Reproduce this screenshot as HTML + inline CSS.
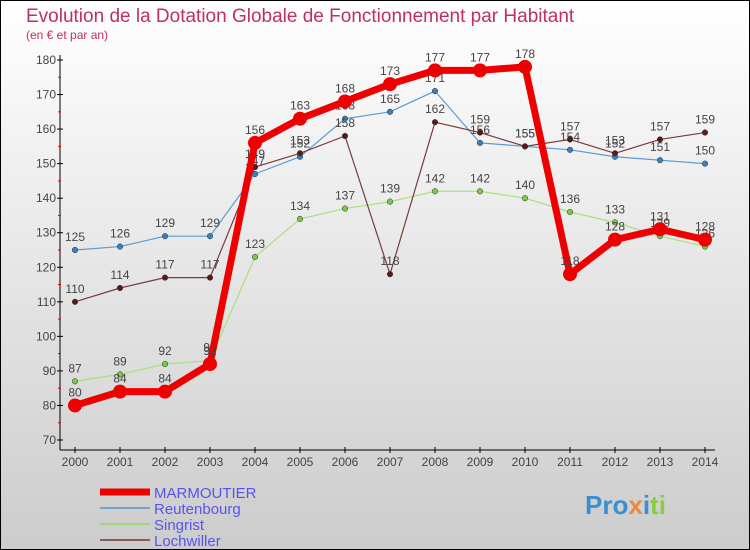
<!DOCTYPE html>
<html><head><meta charset="utf-8"><style>
body{margin:0}
#c{width:750px;height:550px;position:relative;overflow:hidden;box-sizing:border-box;border:1px solid #000;background:linear-gradient(#fff,#ccc);font-family:"Liberation Sans",sans-serif}
</style></head><body>
<div id="c">
<svg id="s" width="750" height="550" style="position:absolute;left:-1px;top:-1px" font-family="Liberation Sans, sans-serif">
<text x="26" y="22" font-size="19" fill="#c0305a">Evolution de la Dotation Globale de Fonctionnement par Habitant</text>
<text x="26" y="39" font-size="12" fill="#c0305a">(en € et par an)</text>
<g id="ax"></g><g id="ser"></g><g id="lg"></g>
<text x="585" y="514" font-size="26" font-weight="bold" fill="#3a8fd0">Pro<tspan fill="#e84">x</tspan><tspan fill="#3a8fd0">i</tspan><tspan fill="#8c4">ti</tspan></text>
</svg>
</div>
<script>
const years=[2000,2001,2002,2003,2004,2005,2006,2007,2008,2009,2010,2011,2012,2013,2014];
const yTicks=[70,80,90,100,110,120,130,140,150,160,170,180];
const marmoutier=[80,84,84,92,156,163,168,173,177,177,178,118,128,131,128];
const reutenbourg=[125,126,129,129,147,152,163,165,171,156,155,154,152,151,150];
const singrist=[87,89,92,93,123,134,137,139,142,142,140,136,133,129,126];
const lochwiller=[110,114,117,117,149,153,158,118,162,159,155,157,153,157,159];
const NS="http://www.w3.org/2000/svg";
const X=i=>75+i*45, Y=v=>440-(v-70)*380/110;
function el(t,a,p){const e=document.createElementNS(NS,t);for(const k in a)e.setAttribute(k,a[k]);p.appendChild(e);return e;}
const ax=document.getElementById('ax');
let a=el('line',{x1:60,y1:55,x2:60,y2:450,stroke:'#000'},ax);

a=el('line',{x1:60,y1:450,x2:715,y2:450,stroke:'#000'},ax);

yTicks.forEach(v=>{el('line',{x1:57,y1:Y(v),x2:63,y2:Y(v),stroke:'#000'},ax);
 if(v<180)el('line',{x1:58,y1:Y(v+5),x2:61,y2:Y(v+5),stroke:'#e00'},ax);
 const t=el('text',{x:56,y:Y(v)+4,'font-size':12,fill:'#444','text-anchor':'end'},ax);t.textContent=v;
 });
years.forEach((y,i)=>{el('line',{x1:X(i),y1:447,x2:X(i),y2:453,stroke:'#000'},ax);
 const t=el('text',{x:X(i),y:466,'font-size':12,fill:'#444','text-anchor':'middle'},ax);t.textContent=y;
 });
const ser=document.getElementById('ser');
const S=[[reutenbourg,'#5a9bd0','#3a7fc0',1.2,2.8,'reutenbourg'],[singrist,'#a8e080','#7c4',1.2,2.8,'singrist'],[lochwiller,'#7a3a3a','#5a1a1a',1.2,2.8,'lochwiller'],[marmoutier,'#ee0000','#ee0000',7,7,'marmoutier']];
S.forEach(([d,c,dc,w,r,n])=>{
 const p=el('polyline',{points:d.map((v,i)=>X(i)+','+Y(v)).join(' '),fill:'none',stroke:c,'stroke-width':w,'stroke-linejoin':'round'},ser);
 
 d.forEach((v,i)=>{const q=el('circle',{cx:X(i),cy:Y(v),r:r,fill:dc,stroke:n=='marmoutier'?'none':'#333','stroke-width':0.5},ser);
  
  const t=el('text',{x:X(i),y:Y(v)-9,'font-size':12,fill:'#444','text-anchor':'middle'},ser);t.textContent=v;
  });
});
const lg=document.getElementById('lg');
[['MARMOUTIER','#ee0000',7],['Reutenbourg','#6fa5cc',2],['Singrist','#9cd870',2],['Lochwiller','#8a5a5a',2]].forEach(([n,c,w],i)=>{
 const yy=492+i*16;
 const l=el('line',{x1:100,y1:yy,x2:150,y2:yy,stroke:c,'stroke-width':w},lg);
 
 const t=el('text',{x:154,y:yy+6,'font-size':15,fill:'#5555ee'},lg);t.textContent=n;
 });
</script>
</body></html>
